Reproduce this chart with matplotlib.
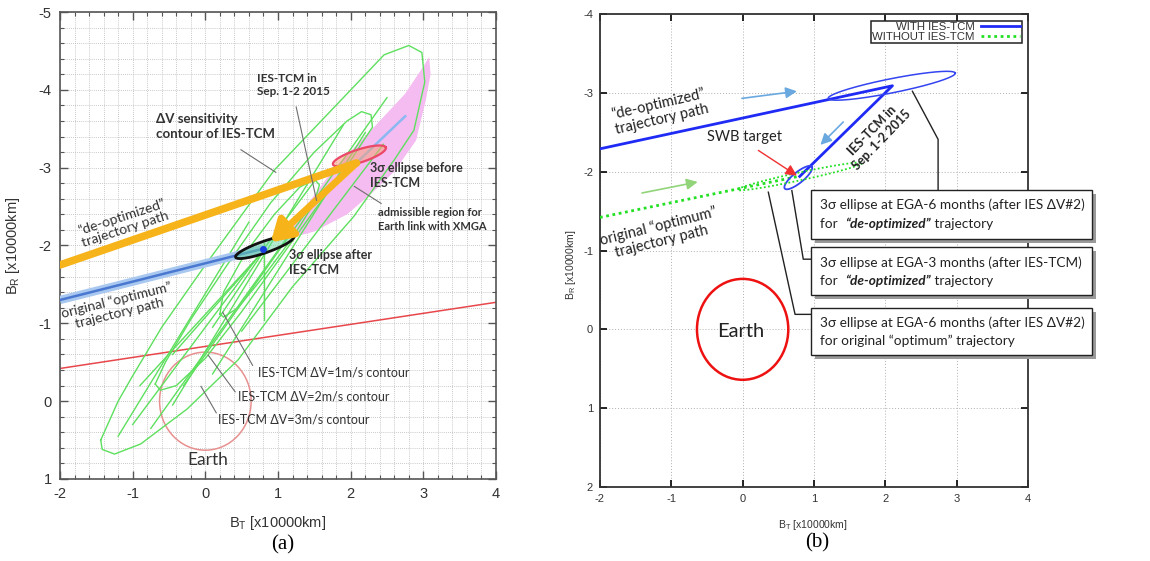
import numpy as np
import matplotlib
matplotlib.use('Agg')
import matplotlib.pyplot as plt
from matplotlib.patches import Polygon, Rectangle, Circle
from matplotlib.lines import Line2D

plt.rcParams['font.family'] = ['Liberation Sans', 'DejaVu Sans']
plt.rcParams['mathtext.fontset'] = 'custom'
plt.rcParams['mathtext.rm'] = 'Liberation Sans'
plt.rcParams['mathtext.it'] = 'Liberation Sans:italic'
plt.rcParams['axes.unicode_minus'] = False

CAL = ['Lato', 'DejaVu Sans']

# ================= data : panel (a) =================
xticks_a = [-2, -1, 0, 1, 2, 3, 4]
yticks_a = [-5, -4, -3, -2, -1, 0, 1]
deopt_a_x = [-2.0, 2.08]
deopt_a_y = [-1.75, -3.06]
tcm_a_x = [2.08, 0.90]
tcm_a_y = [-3.06, -2.04]
optim_a_x = [-2.0, 0.80]
optim_a_y = [-1.30, -1.96]
optim_ext_x = [1.00, 2.75]
optim_ext_y = [-2.10, -3.66]
redline_x = [-2.0, 4.0]
redline_y = [-0.42, -1.27]
admiss_x = [0.95, 1.30, 1.78, 2.30, 2.75, 3.00, 3.08, 3.10, 3.03, 2.90, 2.60, 2.30, 1.95, 1.50, 1.10, 0.95]
admiss_y = [-2.06, -2.40, -3.00, -3.50, -3.95, -4.30, -4.42, -4.20, -3.85, -3.35, -2.95, -2.68, -2.40, -2.18, -2.08, -2.06]
# delta-V sensitivity contours (1, 2, 3 m/s)
c3_x = [-1.44, -1.20, -1.01, -0.60, 0.00, 0.95, 1.91, 2.46, 2.80, 2.98, 3.02, 2.87, 2.60, 2.04, 1.20, 0.45, -0.25, -0.89, -1.25, -1.42, -1.44]
c3_y = [0.50, 0.00, -0.31, -0.95, -1.75, -2.97, -3.91, -4.45, -4.57, -4.48, -4.10, -3.48, -3.10, -2.37, -1.47, -0.53, 0.10, 0.55, 0.68, 0.62, 0.50]
c2_x = [-0.69, -0.55, -0.20, 0.30, 0.90, 1.50, 1.95, 2.15, 2.28, 2.30, 2.20, 1.90, 1.50, 1.00, 0.50, 0.00, -0.40, -0.62, -0.69]
c2_y = [-0.22, -0.50, -1.05, -1.75, -2.55, -3.20, -3.60, -3.72, -3.68, -3.52, -3.38, -2.95, -2.45, -1.80, -1.15, -0.55, -0.20, -0.14, -0.22]
c1_x = [0.20, 0.25, 0.55, 0.95, 1.30, 1.50, 1.57, 1.50, 1.20, 0.80, 0.45, 0.25, 0.20]
c1_y = [-1.12, -1.40, -1.90, -2.40, -2.75, -2.85, -2.78, -2.55, -2.10, -1.60, -1.20, -1.08, -1.12]
chords_x0 = [0.81, 0.82, 0.82, -1.00, -0.30, 0.50, -0.75, 0.10, -1.20, 0.82, -0.45]
chords_y0 = [-2.03, -1.95, -1.95, 0.30, -0.20, -0.90, 0.35, -0.35, 0.45, -1.95, 0.05]
chords_x1 = [0.81, -0.45, 0.10, 1.60, 2.50, 2.45, 1.20, 2.20, 0.60, -0.90, 1.90]
chords_y1 = [-1.04, -0.60, -0.95, -2.95, -3.90, -3.30, -2.20, -3.45, -2.30, -0.20, -3.55]
# 3-sigma ellipses: centre x, centre y, semi-major, semi-minor, angle(deg)
ell_before = (2.12, -3.15, 0.38, 0.085, -16.5)
ell_after = (0.815, -1.98, 0.42, 0.075, -18.0)
earth_a = (0.0, 0.0, 0.63)

# ================= data : panel (b) =================
xticks_b = [-2, -1, 0, 1, 2, 3, 4]
yticks_b = [-4, -3, -2, -1, 0, 1, 2]
with_x = [-2.0, 2.10, 0.80]
with_y = [-2.29, -3.09, -1.94]
without_x = [-2.0, 0.78]
without_y = [-1.42, -1.94]
ell_ega6_deopt = (2.09, -3.09, 0.905, 0.09, -10.2)
ell_ega3_deopt = (0.78, -1.925, 0.235, 0.07, -35.8)
ell_ega6_orig = (0.80, -1.94, 0.89, 0.05, -11.0)
earth_b = (0.0, 0.0, 0.64)
swb_target = (0.76, -1.95)


def ellipse_xy(p, n=200):
    cx, cy, a, b, ang = p
    t = np.linspace(0, 2 * np.pi, n)
    th = np.deg2rad(ang)
    x = cx + a * np.cos(t) * np.cos(th) - b * np.sin(t) * np.sin(th)
    y = cy + a * np.cos(t) * np.sin(th) + b * np.sin(t) * np.cos(th)
    return x, y


fig = plt.figure(figsize=(11.5, 5.61), dpi=100)

# ------------------------------------------------------------------ (a)
axa = fig.add_axes([0.0522, 0.1462, 0.3791, 0.8324])
axa.set_xlim(-2, 4)
axa.set_ylim(1, -5)
axa.set_xticks(xticks_a)
axa.set_yticks(yticks_a)
axa.set_xticks(np.arange(-2, 4.01, 0.2), minor=True)
axa.set_yticks(np.arange(-5, 1.01, 0.2), minor=True)
axa.grid(True, which='both', ls=(0, (1, 1.5)), color='#b8b8b8', lw=0.6)
axa.tick_params(which='both', direction='in', top=True, right=True, color='#555555',
                labelsize=10.5, labelcolor='#333333', pad=6)
axa.tick_params(which='major', length=6, width=1)
axa.tick_params(which='minor', length=3, width=0.8)
for s in axa.spines.values():
    s.set_color('#555555'); s.set_linewidth(1.2)
axa.set_xlabel(r'B$_\mathrm{T}$ [x10000km]', fontsize=10.5, color='#333333')
axa.set_ylabel(r'B$_\mathrm{R}$ [x10000km]', fontsize=10.5, color='#333333')
axa.xaxis.set_label_coords(0.5, -0.075)
axa.yaxis.set_label_coords(-0.087, 0.5)
axa.set_axisbelow(True)

# admissible region
axa.add_patch(Polygon(np.column_stack([admiss_x, admiss_y]), closed=True,
                      facecolor='#f4bcf0', edgecolor='none', zorder=1))
# red line & earth
axa.plot(redline_x, redline_y, color='#e8474c', lw=1.1, zorder=2)
axa.add_patch(Circle(earth_a[:2], earth_a[2], fill=False, ec='#e89090', lw=1.1, zorder=2))
# green contours
for cx, cy in [(c3_x, c3_y), (c2_x, c2_y), (c1_x, c1_y)]:
    axa.plot(cx, cy, color='#5ee05e', lw=1.0, zorder=3)
for x0, y0, x1, y1 in zip(chords_x0, chords_y0, chords_x1, chords_y1):
    axa.plot([x0, x1], [y0, y1], color='#5ee05e', lw=1.0, zorder=3)
# original optimum path
axa.plot(optim_a_x, optim_a_y, color='#a9c8f0', lw=6, solid_capstyle='butt', zorder=4)
axa.plot(optim_a_x, optim_a_y, color='#4a78d0', lw=1.8, zorder=4)
axa.plot(optim_ext_x, optim_ext_y, color='#8ab8f0', lw=1.8, zorder=4)
axa.plot(optim_a_x[-1:], optim_a_y[-1:], marker='o', ms=4, color='#1a3fe0', zorder=7)
# ellipses
ex, ey = ellipse_xy(ell_before)
axa.fill(ex, ey, color='#f6a07a', alpha=0.55, zorder=4, lw=0)
axa.plot(ex, ey, color='#ec4868', lw=1.6, zorder=5)
ex, ey = ellipse_xy(ell_after)
axa.fill(ex, ey, color='#66d8a0', alpha=0.5, zorder=4, lw=0)
axa.plot(ex, ey, color='#111111', lw=2.0, zorder=6)
# de-optimized path + TCM arrow
axa.plot(deopt_a_x, deopt_a_y, color='#f7b41a', lw=5.5, solid_capstyle='round', zorder=5)
axa.annotate('', xy=(tcm_a_x[1], tcm_a_y[1]), xytext=(tcm_a_x[0], tcm_a_y[0]),
             arrowprops=dict(arrowstyle='-|>,head_length=0.9,head_width=0.55',
                             color='#f7b41a', lw=5, mutation_scale=14, shrinkA=0, shrinkB=0),
             zorder=6)

gray = '#6e6e6e'
# annotations
axa.text(0.71, -4.22, 'IES-TCM in\nSep. 1-2 2015', family=CAL, weight='bold', fontsize=8.5,
         color='#333333', va='top', ha='left', linespacing=1.25, zorder=8)
axa.plot([1.25, 1.53], [-3.78, -2.58], color=gray, lw=0.8, zorder=8)
axa.text(-0.68, -3.70, 'ΔV sensitivity\ncontour of IES-TCM', family=CAL, weight='bold', fontsize=9.5,
         color='#333333', va='top', ha='left', linespacing=1.3, zorder=8)
axa.plot([0.49, 0.97], [-3.23, -2.94], color=gray, lw=0.8, zorder=8)
axa.text(2.26, -3.07, '3σ ellipse before\nIES-TCM', family=CAL, weight='bold', fontsize=9,
         color='#333333', va='top', ha='left', linespacing=1.3, zorder=8)
axa.text(2.37, -2.50, 'admissible region for\nEarth link with XMGA', family=CAL, weight='bold',
         fontsize=8, color='#333333', va='top', ha='left', linespacing=1.35, zorder=8)
axa.plot([2.42, 2.05], [-2.54, -2.76], color=gray, lw=0.8, zorder=8)
axa.text(1.15, -1.95, '3σ ellipse after\nIES-TCM', family=CAL, weight='bold', fontsize=9,
         color='#333333', va='top', ha='left', linespacing=1.3, zorder=8)
axa.text(-1.13, -2.29, '“de-optimized”\ntrajectory path', family=CAL, fontsize=10,
         color='#333333', va='center', ha='center', rotation=18, rotation_mode='anchor',
         linespacing=1.1, zorder=8)
axa.text(-1.20, -1.21, 'original “optimum”\ntrajectory path', family=CAL, fontsize=10,
         color='#333333', va='center', ha='center', rotation=14, rotation_mode='anchor',
         linespacing=1.1, zorder=8)
labels_dv = ['IES-TCM ΔV=1m/s contour', 'IES-TCM ΔV=2m/s contour', 'IES-TCM ΔV=3m/s contour']
lab_pos = [(0.72, -0.37), (0.45, -0.06), (0.17, 0.23)]
lead = [((0.65, -0.46), (0.24, -1.14)), ((0.41, -0.12), (0.04, -0.59)), ((0.15, 0.15), (-0.06, -0.19))]
for txt, (lx, ly), (p0, p1) in zip(labels_dv, lab_pos, lead):
    axa.text(lx, ly, txt, family=CAL, fontsize=9, color='#333333', va='center', ha='left', zorder=8)
    axa.plot([p0[0], p1[0]], [p0[1], p1[1]], color=gray, lw=0.8, zorder=8)
axa.text(0.03, 0.75, 'Earth', family=CAL, fontsize=12.5, color='#333333', ha='center', va='center', zorder=8)

# ------------------------------------------------------------------ (b)
axb = fig.add_axes([0.5217, 0.1319, 0.3722, 0.8431])
axb.set_xlim(-2, 4)
axb.set_ylim(2, -4)
axb.set_xticks(xticks_b)
axb.set_yticks(yticks_b)
axb.grid(True, ls=(0, (1, 2)), color='#b0b0b0', lw=0.7)
axb.tick_params(direction='in', top=True, right=True, length=5, width=1.2,
                labelsize=8, labelcolor='#333333', pad=5)
for s in axb.spines.values():
    s.set_color('#333333'); s.set_linewidth(1.3)
axb.set_xlabel(r'B$_\mathrm{T}$ [x10000km]', fontsize=7.5, color='#333333')
axb.set_ylabel(r'B$_\mathrm{R}$ [x10000km]', fontsize=7.5, color='#333333')
axb.xaxis.set_label_coords(0.498, -0.066)
axb.yaxis.set_label_coords(-0.052, 0.47)
axb.set_axisbelow(True)

blue = '#1f2bf5'
green = '#22e022'
axb.plot(with_x, with_y, color=blue, lw=2.0, zorder=4)
axb.plot(without_x, without_y, color=green, lw=2.0, ls=(0, (1, 1.3)), zorder=4)
ex, ey = ellipse_xy(ell_ega6_deopt)
axb.plot(ex, ey, color='#3344f0', lw=1.1, zorder=4)
ex, ey = ellipse_xy(ell_ega3_deopt)
axb.plot(ex, ey, color='#3344f0', lw=1.3, zorder=4)
ex, ey = ellipse_xy(ell_ega6_orig)
axb.plot(ex, ey, color=green, lw=1.3, ls=(0, (1, 1.3)), zorder=4)
axb.add_patch(Circle(earth_b[:2], earth_b[2], fill=False, ec='#ee1111', lw=1.8, zorder=4))
axb.text(-0.03, 0.03, 'Earth', family=CAL, fontsize=14.5, color='#222222', ha='center', va='center', zorder=5)

# direction arrows
for (x0, y0, x1, y1, c) in [(-0.01, -2.93, 0.76, -3.02, '#6aa8e0'),
                           (1.41, -2.63, 1.09, -2.34, '#6aa8e0'),
                           (-1.41, -1.73, -0.63, -1.87, '#92d47a')]:
    axb.annotate('', xy=(x1, y1), xytext=(x0, y0),
                 arrowprops=dict(arrowstyle='-|>,head_length=0.6,head_width=0.3', color=c,
                                 lw=1.2, mutation_scale=11, shrinkA=0, shrinkB=0), zorder=5)
# SWB target
axb.annotate('', xy=swb_target, xytext=(0.22, -2.27),
             arrowprops=dict(arrowstyle='-|>,head_length=0.6,head_width=0.3', color='#f03030',
                             lw=1.0, mutation_scale=11, shrinkA=0, shrinkB=0), zorder=6)
axb.text(0.03, -2.44, 'SWB target', family=CAL, fontsize=10.5, color='#222222', ha='center', va='center', zorder=6)
axb.text(-1.16, -2.76, '“de-optimized”\ntrajectory path', family=CAL, fontsize=10.5,
         color='#222222', va='center', ha='center', rotation=13, rotation_mode='anchor',
         linespacing=1.15, zorder=6)
axb.text(-1.16, -1.21, 'original “optimum”\ntrajectory path', family=CAL, fontsize=10.5,
         color='#222222', va='center', ha='center', rotation=14, rotation_mode='anchor',
         linespacing=1.15, zorder=6)
axb.text(1.88, -2.46, 'IES-TCM in\nSep. 1-2 2015', family=CAL, weight='bold', fontsize=9,
         color='#222222', va='center', ha='center', rotation=46, rotation_mode='anchor',
         linespacing=1.2, zorder=6)

# legend
h1 = Line2D([], [], color=blue, lw=2)
h2 = Line2D([], [], color=green, lw=2, ls=(0, (1, 1.3)))
leg = axb.legend([h1, h2], ['WITH IES-TCM', 'WITHOUT IES-TCM'], loc='upper right',
                 bbox_to_anchor=(0.985, 0.986), borderaxespad=0, markerfirst=False,
                 fontsize=8.2, handlelength=3.5, handletextpad=0.5, borderpad=0.1,
                 labelspacing=0.0, fancybox=False, framealpha=1, edgecolor='#222222')
leg.get_frame().set_linewidth(1.1)
for t in leg.get_texts():
    t.set_color('#333333')

# leader lines (black)
leaders = [([2.38, 2.74, 2.74], [-3.02, -2.41, -1.77]),
           ([0.69, 0.85, 0.96], [-1.76, -0.89, -0.89]),
           ([0.36, 0.735, 0.96], [-1.74, -0.19, -0.19])]
for lx, ly in leaders:
    axb.plot(lx, ly, color='#222222', lw=1.0, zorder=6, clip_on=False)

# callout boxes
box_x0, box_x1 = 0.96, 4.90
boxes_y = [(-1.77, -1.145), (-1.04, -0.43), (-0.27, 0.33)]
box_line1 = ['3σ ellipse at EGA-6 months (after IES ΔV#2)',
             '3σ ellipse at EGA-3 months (after IES-TCM)',
             '3σ ellipse at EGA-6 months (after IES ΔV#2)']
box_line2 = [('for  ', '“de-optimized”', ' trajectory'),
             ('for  ', '“de-optimized”', ' trajectory'),
             ('for original “optimum” trajectory', '', '')]
FS = 9.8
for (yt, yb), l1, l2 in zip(boxes_y, box_line1, box_line2):
    axb.add_patch(Rectangle((box_x0 + 0.05, yt + 0.05), box_x1 - box_x0, yb - yt,
                            fc='#9a9a9a', ec='none', zorder=7, clip_on=False))
    axb.add_patch(Rectangle((box_x0, yt), box_x1 - box_x0, yb - yt,
                            fc='white', ec='#222222', lw=1.0, zorder=8, clip_on=False))
    hgt = yb - yt
    axb.text(box_x0 + 0.13, yt + 0.31 * hgt, l1, family=CAL, fontsize=FS, color='#222222',
             va='center', ha='left', zorder=9, clip_on=False)
    t1 = axb.text(box_x0 + 0.13, yt + 0.70 * hgt, l2[0], family=CAL, fontsize=FS,
                  color='#222222', va='center', ha='left', zorder=9, clip_on=False)
    if l2[1]:
        t2 = axb.annotate(l2[1], xy=(1, 0), xycoords=t1, va='bottom', ha='left', family=CAL,
                          fontsize=FS, weight='bold', style='italic', color='#222222',
                          zorder=9, annotation_clip=False)
        axb.annotate(l2[2], xy=(1, 0), xycoords=t2, va='bottom', ha='left', family=CAL,
                     fontsize=FS, color='#222222', zorder=9, annotation_clip=False)

# captions
fig.text(283 / 1150, 1 - 545 / 561, '(a)', family=['Liberation Serif'], fontsize=15, ha='center', va='center')
fig.text(817 / 1150, 1 - 543 / 561, '(b)', family=['Liberation Serif'], fontsize=15, ha='center', va='center')

fig.savefig('out.png', dpi=100)
